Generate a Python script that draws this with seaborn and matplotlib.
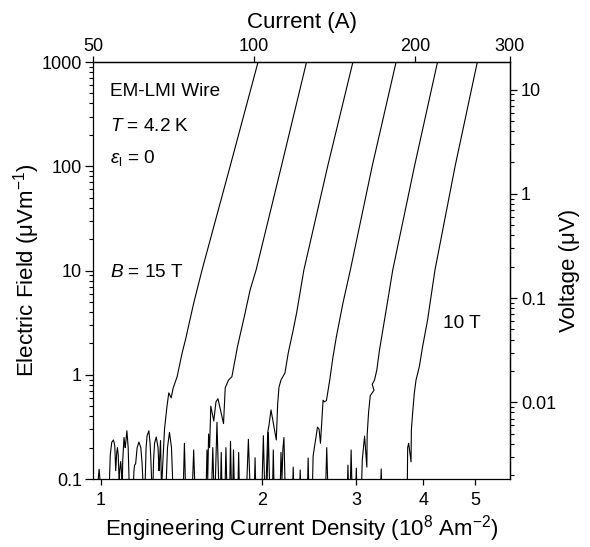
import matplotlib
matplotlib.use("Agg")
import matplotlib.pyplot as plt
import numpy as np
import pandas as pd
import seaborn as sns
from matplotlib.ticker import FixedLocator, NullLocator, NullFormatter, LogLocator

# ---------------- data ----------------
fields = ["15 T", "14 T", "13 T", "12 T", "11 T", "10 T"]

# Engineering current density (1e8 A/m^2) and electric field (uV/m), per field
j_15 = [0.98303, 0.99275, 1.00214,
        1.03483, 1.0415, 1.04821, 1.05586, 1.06175, 1.0663, 1.07088, 1.07409, 1.07777, 1.0824, 1.08472, 1.08937, 1.09404, 1.09639,
        1.09873, 1.10486, 1.11055, 1.11293, 1.11866, 1.1249, 1.13215,
        1.14678, 1.15317, 1.15664, 1.1616, 1.16908, 1.17812, 1.18774, 1.19437, 1.20361,
        1.20722, 1.215, 1.22021, 1.22964, 1.23598, 1.23968, 1.24393, 1.24927,
        1.25463, 1.26001, 1.26922, 1.27903, 1.28452, 1.28727, 1.29279, 1.29834,
        1.30112, 1.3151, 1.32926, 1.33954, 1.35337, 1.365, 1.38858, 1.41861, 1.43879, 1.4908, 1.54537, 1.7444, 1.96651]
e_15 = [0.07, 0.124, 0.07,
        0.06, 0.17, 0.225, 0.237, 0.21, 0.12, 0.18, 0.2, 0.17, 0.09, 0.12, 0.147, 0.11, 0.07,
        0.15, 0.25, 0.2, 0.22, 0.29, 0.2, 0.06,
        0.06, 0.12, 0.136, 0.14, 0.2, 0.226, 0.2, 0.14, 0.06,
        0.06, 0.2, 0.26, 0.29, 0.22, 0.16, 0.1, 0.06,
        0.15, 0.22, 0.253, 0.2, 0.12, 0.15, 0.234, 0.08,
        0.1, 0.3, 0.5, 0.67, 0.6, 0.746, 0.96, 1.617, 2.155, 4.85, 10.1, 100.6, 1000]

j_14 = [1.32072, 1.3321, 1.34355, 1.3551, 1.36675,
        1.42346, 1.43264, 1.44187,
        1.47937, 1.4908, 1.5017,
        1.57073, 1.57881, 1.5838, 1.58966, 1.59649, 1.60471, 1.62545, 1.64082, 1.65493, 1.69507, 1.70745,
        1.73174, 1.75713, 1.79976, 1.85986, 1.90009, 1.94976, 2.17453, 2.42221]
e_14 = [0.06, 0.2, 0.28, 0.2, 0.06,
        0.06, 0.22, 0.06,
        0.06, 0.19, 0.06,
        0.06, 0.19, 0.1, 0.27, 0.2, 0.5, 0.36, 0.55, 0.59, 0.34, 0.75,
        0.89, 0.958, 1.858, 3.91, 6.5, 10.1, 100.6, 1000]

j_13 = [1.60815, 1.61851, 1.62894, 1.63243, 1.64787, 1.66418, 1.67132, 1.67849, 1.68569,
        1.7038, 1.71258, 1.72213, 1.73917, 1.74663, 1.75563, 1.76166, 1.76922, 1.77832,
        1.80131, 1.80903, 1.81679, 1.86784, 1.88631, 1.90416, 1.93291, 1.9412, 1.94976,
        2.03067, 2.04989, 2.06133, 2.07905, 2.12675, 2.13953, 2.15148, 2.16999, 2.20746,
        2.23887, 2.2873, 2.32083, 2.39449, 2.65332, 2.95684]
e_13 = [0.06, 0.2, 0.06, 0.06, 0.35, 0.06, 0.06, 0.18, 0.06,
        0.06, 0.2, 0.06, 0.06, 0.23, 0.06, 0.06, 0.19, 0.06,
        0.06, 0.18, 0.06, 0.06, 0.24, 0.06, 0.06, 0.16, 0.06,
        0.06, 0.28, 0.33, 0.46, 0.237, 0.53, 0.76, 0.89, 1.04,
        1.617, 2.69, 3.91, 10.1, 100.6, 1000]

j_12 = [1.99621, 2.01166, 2.02635, 2.0394, 2.05516, 2.07016, 2.09063, 2.0996, 2.10861,
        2.16073, 2.16999, 2.17931, 2.18866, 2.19805, 2.21219,
        2.27753, 2.2873, 2.29711, 2.3468, 2.35686, 2.36697, 2.42844, 2.43887, 2.44933,
        2.48094, 2.49158, 2.53895, 2.5564, 2.57176, 2.60054, 2.61392, 2.63865, 2.6762,
        2.71426, 2.75404, 2.83295, 2.92411, 3.21283, 3.56016]
e_12 = [0.06, 0.26, 0.06, 0.06, 0.28, 0.06, 0.06, 0.19, 0.06,
        0.06, 0.18, 0.1, 0.2, 0.25, 0.06,
        0.06, 0.13, 0.06, 0.06, 0.122, 0.06, 0.06, 0.159, 0.06,
        0.06, 0.166, 0.315, 0.3, 0.22, 0.57, 0.55, 0.565, 0.89,
        1.49, 2.32, 4.88, 10.1, 100.6, 1000]

j_11 = [2.62513, 2.64203, 2.65905, 2.88187, 2.89423, 2.90665, 2.91912, 2.93416, 2.94926,
        2.98737, 3.00018, 3.01305,
        3.06245, 3.0782, 3.10864, 3.1394, 3.14342, 3.16231, 3.18541, 3.23765, 3.21283, 3.24458,
        3.27667, 3.31473, 3.41116, 3.50891, 3.85379, 4.25449]
e_11 = [0.06, 0.2, 0.06, 0.06, 0.136, 0.06, 0.06, 0.19, 0.06,
        0.06, 0.127, 0.06,
        0.06, 0.152, 0.258, 0.13, 0.264, 0.43, 0.63, 0.71, 0.81, 0.89,
        1.11, 1.728, 4.18, 10.1, 100.6, 1000]

j_10 = [3.32469, 3.33895, 3.35327,
        3.72884, 3.73683, 3.74165, 3.7577, 3.7965, 3.80136, 3.82256, 3.85048, 3.87862, 3.93377,
        3.98974, 4.07605, 4.20744, 4.58925, 5.0485]
e_10 = [0.06, 0.125, 0.06,
        0.06, 0.1, 0.2, 0.22, 0.146, 0.295, 0.43, 0.668, 0.89, 1.195,
        1.858, 3.35, 10.1, 100.6, 1000]

x_ticks = [1, 2, 3, 4, 5]
y_ticks = [0.1, 1, 10, 100, 1000]
top_ticks = [50, 100, 200, 300]
right_ticks = [0.01, 0.1, 1, 10]

amps_per_jd = 51.7      # current (A) per 1e8 A/m^2
volt_per_field = 0.0184  # uV per uV/m

# ---------------- build frame ----------------
frames = []
for name, jj, ee in zip(fields, [j_15, j_14, j_13, j_12, j_11, j_10],
                        [e_15, e_14, e_13, e_12, e_11, e_10]):
    frames.append(pd.DataFrame({"J": jj, "E": ee, "field": name,
                                "order": np.arange(len(jj))}))
df = pd.concat(frames, ignore_index=True)

# ---------------- style ----------------
sns.set_style("ticks")
plt.rcParams["font.family"] = ["Liberation Sans", "DejaVu Sans"]
plt.rcParams["mathtext.fontset"] = "custom"
plt.rcParams["mathtext.rm"] = "Liberation Sans"
plt.rcParams["mathtext.it"] = "Liberation Sans:italic"
plt.rcParams["mathtext.bf"] = "Liberation Sans:bold"
plt.rcParams["axes.linewidth"] = 0.9
plt.rcParams["xtick.direction"] = "out"
plt.rcParams["ytick.direction"] = "out"
for k in ["text.color", "axes.labelcolor", "xtick.color", "ytick.color",
          "xtick.labelcolor", "ytick.labelcolor", "axes.edgecolor"]:
    plt.rcParams[k] = "black"

fig = plt.figure(figsize=(5.9, 5.47), dpi=100)
ax = fig.add_axes([0.15763, 0.12431, 0.70678, 0.76234])
ax.set_xscale("log")
ax.set_yscale("log")

sns.lineplot(data=df, x="J", y="E", units="field", estimator=None, sort=False,
             color="black", linewidth=0.8, legend=False, ax=ax)

ax.set_xlim(0.967, 5.81)
ax.set_ylim(0.1, 1000)

ax.xaxis.set_major_locator(FixedLocator(x_ticks))
ax.set_xticklabels([str(v) for v in x_ticks])
ax.xaxis.set_minor_locator(NullLocator())
ax.yaxis.set_major_locator(FixedLocator(y_ticks))
ax.set_yticklabels(["0.1", "1", "10", "100", "1000"])
ax.yaxis.set_minor_locator(LogLocator(base=10, subs=np.arange(2, 10)))
ax.yaxis.set_minor_formatter(NullFormatter())

ax.tick_params(axis="x", which="major", length=4, width=0.9, labelsize=13, pad=5.5)
ax.tick_params(axis="y", which="major", length=6, width=0.9, labelsize=13, pad=2)
ax.tick_params(axis="y", which="minor", length=3, width=0.8)

for s in ax.spines.values():
    s.set_color("black")
    s.set_linewidth(0.9)

ax.set_xlabel("Engineering Current Density (10$^{8}$ Am$^{-2}$)", fontsize=16, labelpad=3)
ax.set_ylabel("Electric Field (\u03bcVm$^{-1}$)", fontsize=16, labelpad=0)

# top axis: current
secx = ax.secondary_xaxis("top", functions=(lambda j: j * amps_per_jd, lambda i: i / amps_per_jd))
secx.set_xticks(top_ticks, labels=[str(v) for v in top_ticks])
secx.xaxis.set_minor_locator(NullLocator())
secx.tick_params(axis="x", which="major", length=4, width=0.9, labelsize=13, pad=1)
secx.set_xlabel("Current (A)", fontsize=16, labelpad=7)

# right axis: voltage
secy = ax.secondary_yaxis("right", functions=(lambda e: e * volt_per_field, lambda v: v / volt_per_field))
secy.set_yticks(right_ticks, labels=["0.01", "0.1", "1", "10"])
secy.yaxis.set_minor_locator(LogLocator(base=10, subs=np.arange(2, 10)))
secy.yaxis.set_minor_formatter(NullFormatter())
secy.tick_params(axis="y", which="major", length=5, width=0.9, labelsize=13, pad=3)
secy.tick_params(axis="y", which="minor", length=3, width=0.8)
secy.set_ylabel("Voltage (\u03bcV)", fontsize=16, labelpad=2)

# annotations
ann = 13.7
ax.text(0.041, 0.929, "EM-LMI Wire", transform=ax.transAxes, fontsize=ann, va="center", ha="left")
ax.text(0.041, 0.846, "$T$ = 4.2 K", transform=ax.transAxes, fontsize=ann, va="center", ha="left")
ax.text(0.041, 0.770, r"$\varepsilon_{\mathrm{l}}$ = 0", transform=ax.transAxes, fontsize=ann, va="center", ha="left")
ax.text(0.041, 0.496, "$B$ = 15 T", transform=ax.transAxes, fontsize=ann, va="center", ha="left")
ax.text(0.839, 0.374, "10 T", transform=ax.transAxes, fontsize=ann, va="center", ha="left")

fig.savefig("out.png", dpi=100)
